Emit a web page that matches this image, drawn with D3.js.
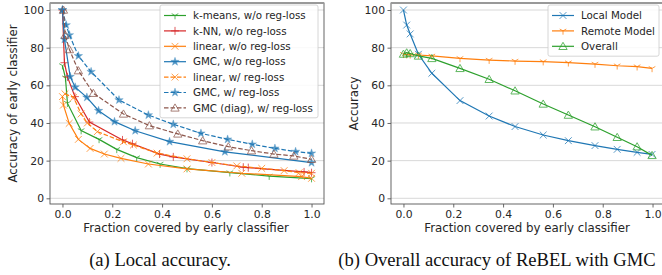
<!DOCTYPE html>
<html>
<head>
<meta charset="utf-8">
<script src="https://cdn.jsdelivr.net/npm/d3@7"></script>
<style>
  body { margin: 0; background: #fff; }
  svg text { font-family: "DejaVu Sans", sans-serif; fill: #262626; }
  .caption { font-family: "Liberation Serif", serif; fill: #111; }
</style>
</head>
<body>
<svg id="fig" width="662" height="275"></svg>
<script>
// ---- panel (a): local accuracy
const kmeansX = [0, 0.012, 0.02, 0.075, 0.147, 0.218, 0.298, 0.392, 0.5, 0.672, 0.83, 1.0];
const kmeansY = [70.5, 64, 50.5, 36, 31.3, 26, 21.6, 18.2, 15.8, 13.6, 11.8, 10.5];
const knnX = [0, 0.008, 0.02, 0.05, 0.108, 0.241, 0.281, 0.39, 0.445, 0.6, 0.726, 0.746, 0.97, 1.0];
const knnY = [100, 72, 64.5, 54, 40.5, 31, 29, 23.5, 22, 19, 16.5, 16.3, 14, 13.6];
const linearX = [0, 0.004, 0.027, 0.064, 0.111, 0.168, 0.235, 0.345, 0.5, 0.72, 0.96, 1.0];
const linearY = [54, 49.5, 39.8, 31.3, 26.5, 23.5, 21.2, 18.2, 15.6, 13.3, 11.5, 10.6];
const gmcX = [0, 0.008, 0.031, 0.051, 0.098, 0.145, 0.209, 0.292, 0.43, 0.652, 1.0];
const gmcY = [100, 84.4, 64.6, 59, 53.6, 46.5, 40.7, 35.9, 30.1, 24.7, 18.9];
const linearRegX = [0.01, 0.045, 0.075, 0.1, 0.14, 0.245, 0.285, 0.38, 0.5, 0.6, 0.7, 0.8, 0.89, 0.95, 1.0];
const linearRegY = [55.5, 53.5, 44.8, 40, 35.4, 30, 28.3, 24, 21, 19, 17.2, 15.9, 14.7, 13.6, 13.3];
const gmcRegX = [0, 0.015, 0.028, 0.064, 0.115, 0.227, 0.345, 0.445, 0.556, 0.663, 0.762, 0.853, 0.936, 1.0];
const gmcRegY = [100, 92, 86.7, 75.6, 67.2, 52.2, 44.2, 39.3, 34.5, 31.3, 28.7, 26.5, 24.8, 23.9];
const diagRegX = [0.004, 0.011, 0.028, 0.064, 0.124, 0.245, 0.349, 0.463, 0.563, 0.666, 0.759, 0.849, 0.929, 1.0];
const diagRegY = [100, 86.7, 79, 67.8, 55.8, 44.8, 38.6, 34.2, 30.6, 27.4, 25.3, 23.5, 22.5, 20.7];

// ---- panel (b): overall accuracy of ReBEL with GMC
const fracB = [0, 0.013, 0.027, 0.06, 0.114, 0.227, 0.344, 0.448, 0.561, 0.662, 0.769, 0.858, 0.938, 0.998];
const localY = [100, 92, 87.3, 76.5, 66.4, 51.9, 43.7, 38.1, 33.6, 30.6, 28, 26, 24.4, 23.3];
const remoteY = [76.5, 76.3, 76.2, 76.1, 75.6, 74.3, 73.4, 72.9, 72.6, 72.0, 71.3, 70.4, 69.9, 69.0];
const overallY = [76.6, 77.3, 76.9, 75.6, 74.3, 69, 63.2, 57.1, 50.1, 44.2, 38, 32.4, 27.4, 22.8];

const xTicks = [0, 0.2, 0.4, 0.6, 0.8, 1.0];
const yTicks = [0, 20, 40, 60, 80, 100];

const C = {blue: '#1f77b4', orange: '#ff7f0e', green: '#2ca02c', red: '#d62728', brown: '#8c564b'};

const zip = (xs, ys) => xs.map((x, i) => [x, ys[i]]);

const leftSeries = [
  {name: 'k-means, w/o reg-loss', data: zip(kmeansX, kmeansY), color: C.green, marker: 'tri', dash: null},
  {name: 'k-NN, w/o reg-loss', data: zip(knnX, knnY), color: C.red, marker: 'plus', dash: null},
  {name: 'linear, w/o reg-loss', data: zip(linearX, linearY), color: C.orange, marker: 'x', dash: null},
  {name: 'GMC, w/o reg-loss', data: zip(gmcX, gmcY), color: C.blue, marker: 'star', dash: null},
  {name: 'linear, w/ reg-loss', data: zip(linearRegX, linearRegY), color: C.orange, marker: 'x', dash: '4.5,2'},
  {name: 'GMC, w/ reg-loss', data: zip(gmcRegX, gmcRegY), color: C.blue, marker: 'star', dash: '4.5,2'},
  {name: 'GMC (diag), w/ reg-loss', data: zip(diagRegX, diagRegY), color: C.brown, marker: 'tri-up', dash: '4.5,2'}
];

const rightSeries = [
  {name: 'Local Model', data: zip(fracB, localY), color: C.blue, marker: 'x', dash: null},
  {name: 'Remote Model', data: zip(fracB, remoteY), color: C.orange, marker: 'tri', dash: null},
  {name: 'Overall', data: zip(fracB, overallY), color: C.green, marker: 'tri-up', dash: null}
];

const svg = d3.select('#fig');

function drawMarker(g, type, color) {
  const s = 3.4;
  if (type === 'x') {
    g.append('path').attr('d', `M${-s},${-s}L${s},${s}M${-s},${s}L${s},${-s}`)
      .attr('stroke', color).attr('stroke-width', 1).attr('fill', 'none');
  } else if (type === 'plus') {
    g.append('path').attr('d', `M${-s - 0.6},0L${s + 0.6},0M0,${-s - 0.6}L0,${s + 0.6}`)
      .attr('stroke', color).attr('stroke-width', 1).attr('fill', 'none');
  } else if (type === 'tri') {
    // matplotlib '1' (tri_down)
    const r = 3.8;
    g.append('path').attr('d', `M0,0L0,${r}M0,0L${-r * 0.87},${-r * 0.5}M0,0L${r * 0.87},${-r * 0.5}`)
      .attr('stroke', color).attr('stroke-width', 1).attr('fill', 'none');
  } else if (type === 'star') {
    g.append('path').attr('d', d3.symbol(d3.symbolStar, 22)())
      .attr('fill', color).attr('stroke', color).attr('stroke-width', 0.4);
  } else if (type === 'tri-up') {
    g.append('path').attr('d', d3.symbol(d3.symbolTriangle, 30)()).attr('transform', 'translate(0,0.8)')
      .attr('fill', 'none').attr('stroke', color).attr('stroke-width', 1);
  }
}

function drawPanel(p) {
  const x = d3.scaleLinear().domain([-0.05, 1.05]).range([p.left, p.right]);
  const y = d3.scaleLinear().domain([0, 100]).range([198.3, 10]);
  const g = svg.append('g');

  // horizontal grid
  g.append('g').selectAll('line').data(yTicks).join('line')
    .attr('x1', p.left).attr('x2', p.right)
    .attr('y1', d => y(d)).attr('y2', d => y(d))
    .attr('stroke', '#d4d4d4').attr('stroke-width', 0.9);

  // axes
  const xa = g.append('g').attr('transform', `translate(0,${p.bottom})`)
    .call(d3.axisBottom(x).tickValues(xTicks).tickFormat(d3.format('.1f')).tickSizeOuter(0).tickSize(3.5).tickPadding(2.5));
  const ya = g.append('g').attr('transform', `translate(${p.left},0)`)
    .call(d3.axisLeft(y).tickValues(yTicks).tickSizeOuter(0).tickSize(3.5).tickPadding(2.5));
  [xa, ya].forEach(a => {
    a.select('.domain').remove();
    a.selectAll('text').attr('font-size', 10.8).attr('font-family', 'DejaVu Sans').attr('fill', '#262626');
    a.selectAll('line').attr('stroke', '#444').attr('stroke-width', 0.8);
  });

  // frame
  g.append('rect').attr('x', p.left).attr('y', p.top)
    .attr('width', p.right - p.left).attr('height', p.bottom - p.top)
    .attr('fill', 'none').attr('stroke', '#555').attr('stroke-width', 0.9);
  g.append('line').attr('x1', p.left).attr('x2', p.right).attr('y1', p.top).attr('y2', p.top)
    .attr('stroke', '#999').attr('stroke-width', 2);

  // series
  const line = d3.line().x(d => x(d[0])).y(d => y(d[1]));
  p.series.forEach(s => {
    g.append('path').datum(s.data)
      .attr('d', line).attr('fill', 'none')
      .attr('stroke', s.color).attr('stroke-width', 1.2)
      .attr('stroke-dasharray', s.dash);
    s.data.forEach(d => {
      const m = g.append('g').attr('transform', `translate(${x(d[0])},${y(d[1])})`).attr('opacity', 0.75);
      drawMarker(m, s.marker, s.color);
    });
  });

  // axis labels
  g.append('text').attr('x', (p.left + p.right) / 2 - 1).attr('y', 232)
    .attr('text-anchor', 'middle').attr('font-size', 11.8).text('Fraction covered by early classifier');
  g.append('text').attr('transform', `translate(${p.ylabelX},${(p.top + p.bottom) / 2}) rotate(-90)`)
    .attr('text-anchor', 'middle').attr('font-size', 11.8).text(p.ylabel);

  // legend
  const lg = g.append('g').attr('transform', `translate(${p.legend.x},${p.legend.y})`);
  lg.append('rect').attr('width', p.legend.w).attr('height', p.series.length * 15.4 + 5)
    .attr('rx', 2).attr('fill', 'rgba(255,255,255,0.85)').attr('stroke', '#cccccc').attr('stroke-width', 0.8);
  p.series.forEach((s, i) => {
    const yy = 10.5 + i * 15.4;
    lg.append('line').attr('x1', 4).attr('x2', 26).attr('y1', yy).attr('y2', yy)
      .attr('stroke', s.color).attr('stroke-width', 1.2).attr('stroke-dasharray', s.dash);
    const m = lg.append('g').attr('transform', `translate(15,${yy})`).attr('opacity', 0.75);
    drawMarker(m, s.marker, s.color);
    lg.append('text').attr('x', 33).attr('y', yy + 3.7).attr('font-size', 10.3).text(s.name);
  });
}

drawPanel({left: 50, right: 324, top: 3, bottom: 204, ylabelX: 16.5,
  ylabel: 'Accuracy of early classifier', series: leftSeries,
  legend: {x: 160, y: 5, w: 158}});
drawPanel({left: 391, right: 665, top: 3, bottom: 204, ylabelX: 358,
  ylabel: 'Accuracy', series: rightSeries,
  legend: {x: 548, y: 5, w: 111}});

// captions
svg.append('text').attr('class', 'caption').attr('x', 160).attr('y', 266)
  .attr('text-anchor', 'middle').attr('font-size', 18.6).text('(a) Local accuracy.');
svg.append('text').attr('class', 'caption').attr('x', 497).attr('y', 266)
  .attr('text-anchor', 'middle').attr('font-size', 18.6).text('(b) Overall accuracy of ReBEL with GMC');
</script>
</body>
</html>
